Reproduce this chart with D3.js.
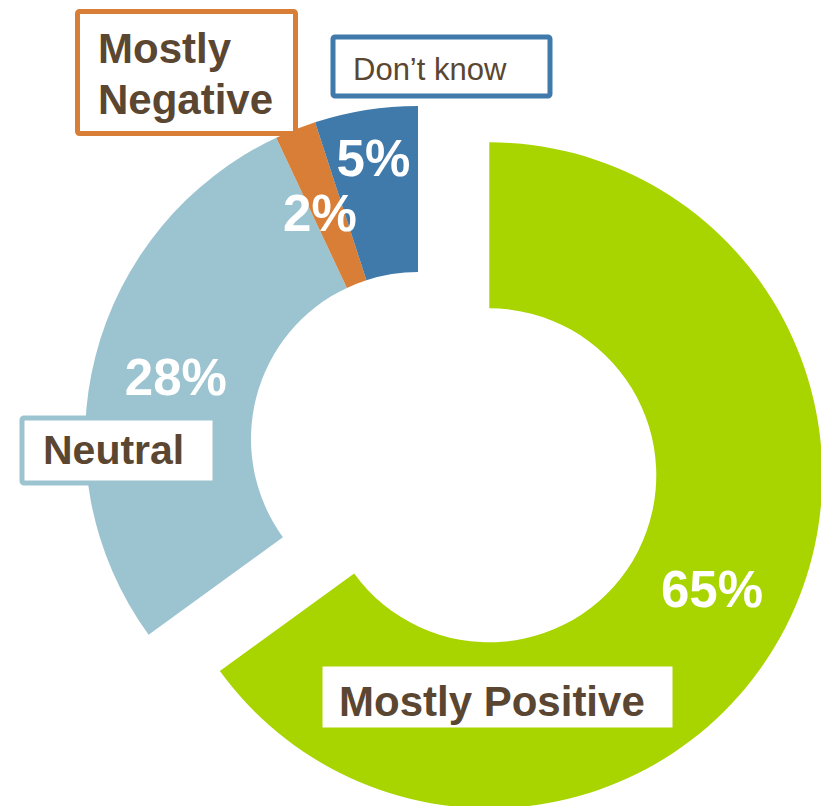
<!DOCTYPE html>
<html>
<head>
<meta charset="utf-8">
<script src="https://cdn.jsdelivr.net/npm/d3@7"></script>
<style>
    body { margin: 0; background: #fff; }
    svg { display: block; font-family: "Liberation Sans", Arial, sans-serif; }
</style>
</head>
<body>
<script>
//chart data
var categories = ["Mostly Positive", "Neutral", "Mostly Negative", "Don\u2019t know"];
var values = [65, 28, 2, 5];
var colors = ["#a8d400", "#9cc4d0", "#d87e37", "#3f7aab"];

//draw the donut
function setChart(){
    var width = 821,
        height = 806;

    var cx = 418, cy = 439,
        outer = 333, inner = 167,
        explode = 80;

    var svg = d3.select("body")
        .append("svg")
        .attr("width", width)
        .attr("height", height);

    var pie = d3.pie()
        .sort(null)
        .value(function(d){ return d; });

    var arc = d3.arc()
        .innerRadius(inner)
        .outerRadius(outer);

    var arcs = pie(values);

    //only the biggest slice is pulled out
    function shift(d, i){
        if (i !== 0) return [0, 0];
        var mid = (d.startAngle + d.endAngle) / 2;
        return [explode * Math.sin(mid), -explode * Math.cos(mid)];
    }

    var g = svg.append("g")
        .attr("transform", "translate(" + cx + "," + cy + ")");

    g.selectAll(".slice")
        .data(arcs)
        .enter()
        .append("path")
        .attr("class", "slice")
        .attr("fill", function(d, i){ return colors[i]; })
        .attr("transform", function(d, i){
            var s = shift(d, i);
            return "translate(" + s[0] + "," + s[1] + ")";
        })
        .attr("d", arc);

    //category boxes (annotation layout)
    var boxes = [
        {x: 320, y: 664, w: 355, h: 66, stroke: colors[0], lines: [categories[0]], tx: 339, ty: [716], size: 42, weight: "bold"},
        {x: 22, y: 418, w: 193, h: 65, stroke: colors[1], lines: [categories[1]], tx: 43, ty: [464], size: 41, weight: "bold"},
        {x: 77.5, y: 11.5, w: 218, h: 122, stroke: colors[2], lines: ["Mostly", "Negative"], tx: 98, ty: [63, 114], size: 42, weight: "bold"},
        {x: 333, y: 37, w: 217, h: 59, stroke: colors[3], lines: [categories[3]], tx: 353, ty: [80], size: 31, weight: "normal"}
    ];

    boxes.forEach(function(b){
        svg.append("rect")
            .attr("x", b.x)
            .attr("y", b.y)
            .attr("width", b.w)
            .attr("height", b.h)
            .attr("rx", 2)
            .attr("fill", "#fff")
            .attr("stroke", b.stroke)
            .attr("stroke-width", 5);
        b.lines.forEach(function(t, j){
            svg.append("text")
                .attr("x", b.tx)
                .attr("y", b.ty[j])
                .attr("fill", "#5b4631")
                .style("font-size", b.size + "px")
                .style("font-weight", b.weight)
                .text(t);
        });
    });

    //percent labels on the ring
    var labelPush = {"Don\u2019t know": 35};
    g.selectAll(".pct")
        .data(arcs)
        .enter()
        .append("text")
        .attr("class", "pct")
        .attr("text-anchor", "middle")
        .attr("dy", "0.36em")
        .attr("fill", "#fff")
        .style("font-size", "51px")
        .style("font-weight", "bold")
        .attr("transform", function(d, i){
            var s = shift(d, i);
            var rr = (inner + outer) / 2 + (labelPush[categories[i]] || 0);
            var mid = (d.startAngle + d.endAngle) / 2;
            var x = s[0] + rr * Math.sin(mid),
                y = s[1] - rr * Math.cos(mid);
            if (categories[i] === "Mostly Negative") { x -= 6; y += 6; }
            return "translate(" + x + "," + y + ")";
        })
        .text(function(d){ return d.value + "%"; });
}

window.onload = setChart;
</script>
</body>
</html>
